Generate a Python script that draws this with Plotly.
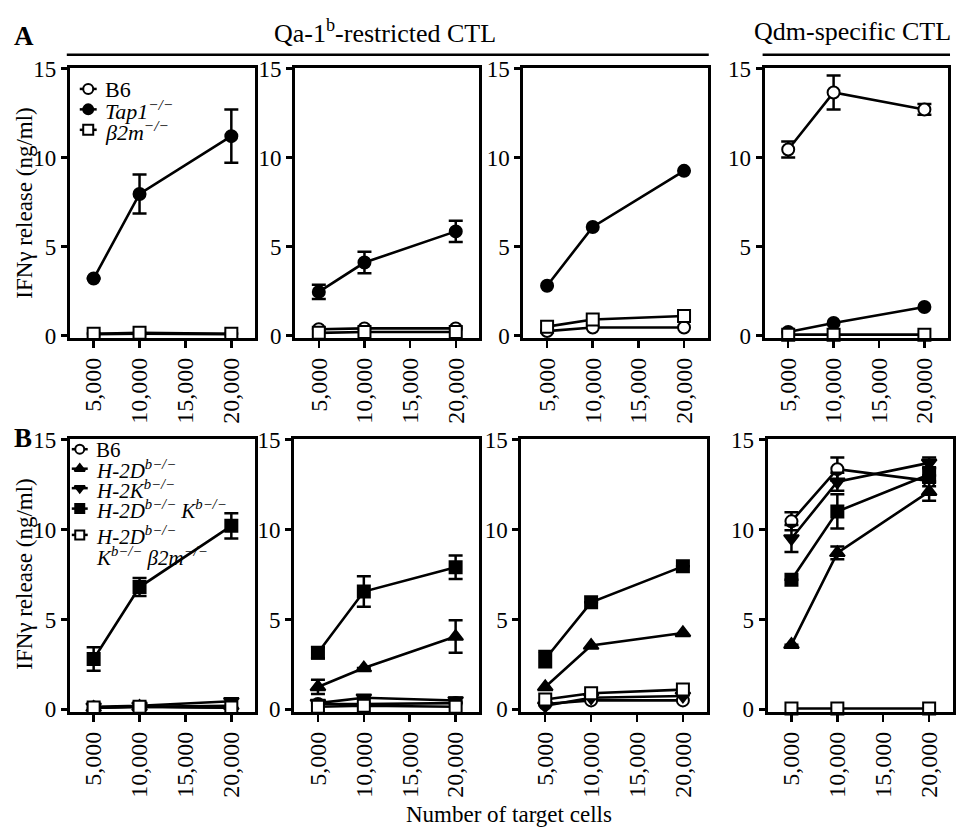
import plotly.graph_objects as go

W, H = 956, 838
FONT = "Liberation Serif, Times New Roman, serif"

# ---------------- data ----------------
doses = [5000, 10000, 20000]
x_tickvals = [5000, 10000, 15000, 20000]
x_ticktext = ["5,000", "10,000", "15,000", "20,000"]
y_tickvals = [0, 5, 10, 15]
y_ticktext = ["0", "5", "10", "15"]

# Row A (Qa-1b-restricted CTL x3, Qdm-specific CTL)
a1_b6 = [0.08, 0.1, 0.08]
a1_tap1 = [3.2, 7.95, 11.2]
a1_tap1_err = [0.0, 1.1, 1.5]
a1_b2m = [0.1, 0.15, 0.1]

a2_b6 = [0.35, 0.4, 0.4]
a2_tap1 = [2.45, 4.1, 5.85]
a2_tap1_err = [0.4, 0.6, 0.6]
a2_b2m = [0.15, 0.2, 0.2]

a3_b6 = [0.25, 0.45, 0.45]
a3_tap1 = [2.8, 6.1, 9.25]
a3_b2m = [0.5, 0.9, 1.1]

a4_b6 = [10.45, 13.65, 12.7]
a4_b6_err = [0.45, 0.95, 0.3]
a4_tap1 = [0.2, 0.7, 1.6]
a4_b2m = [0.05, 0.05, 0.05]

# Row B
b1_b6 = [0.1, 0.15, 0.1]
b1_db = [0.1, 0.15, 0.2]
b1_kb = [0.15, 0.2, 0.45]
b1_dbkb = [2.8, 6.8, 10.2]
b1_dbkb_err = [0.65, 0.5, 0.7]
b1_tko = [0.1, 0.15, 0.1]

b2_b6 = [0.3, 0.3, 0.35]
b2_db = [1.25, 2.3, 4.05]
b2_db_err = [0.4, 0.0, 0.9]
b2_kb = [0.35, 0.65, 0.5]
b2_kb_err = [0.0, 0.0, 0.15]
b2_dbkb = [3.15, 6.55, 7.9]
b2_dbkb_err = [0.3, 0.85, 0.65]
b2_tko = [0.15, 0.2, 0.15]

b3_b6 = [0.3, 0.5, 0.5]
b3_db = [1.25, 3.55, 4.25]
b3_kb = [0.2, 0.65, 0.75]
b3_dbkb = [2.8, 5.95, 7.95]
b3_dbkb_err = [0.45, 0.0, 0.0]
b3_tko = [0.55, 0.9, 1.1]

b4_b6 = [10.45, 13.35, 12.7]
b4_b6_err = [0.5, 0.65, 0.3]
b4_db = [3.6, 8.7, 12.1]
b4_db_err = [0.0, 0.35, 0.5]
b4_kb = [9.5, 12.65, 13.7]
b4_kb_err = [0.75, 0.5, 0.3]
b4_dbkb = [7.2, 11.0, 13.05]
b4_dbkb_err = [0.0, 0.95, 0.4]
b4_tko = [0.05, 0.05, 0.05]

legend_a_labels = ["B6", "<i>Tap1<sup>−/−</sup></i>", "<i>β2m<sup>−/−</sup></i>"]
legend_b_labels = ["B6", "<i>H-2D<sup>b−/−</sup></i>", "<i>H-2K<sup>b−/−</sup></i>",
                   "<i>H-2D<sup>b−/−</sup> K<sup>b−/−</sup></i>",
                   "<i>H-2D<sup>b−/−</sup></i>"]
legend_b_extra = "<i>K<sup>b−/−</sup> β2m<sup>−/−</sup></i>"

# ---------------- styles ----------------
STY = {
    "b6": dict(symbol="circle", fill="white", size=12),
    "tap1": dict(symbol="circle", fill="black", size=12),
    "b2m": dict(symbol="square", fill="white", size=12),
    "db": dict(symbol="triangle-up", fill="black", size=13),
    "kb": dict(symbol="triangle-down", fill="black", size=13),
    "dbkb": dict(symbol="square", fill="black", size=12),
    "tko": dict(symbol="square", fill="white", size=12),
}

panels = [
    (1, [("b6", a1_b6, None), ("tap1", a1_tap1, a1_tap1_err), ("b2m", a1_b2m, None)]),
    (2, [("b6", a2_b6, None), ("tap1", a2_tap1, a2_tap1_err), ("b2m", a2_b2m, None)]),
    (3, [("b6", a3_b6, None), ("tap1", a3_tap1, None), ("b2m", a3_b2m, None)]),
    (4, [("b6", a4_b6, a4_b6_err), ("tap1", a4_tap1, None), ("b2m", a4_b2m, None)]),
    (5, [("b6", b1_b6, None), ("db", b1_db, None), ("kb", b1_kb, None),
         ("dbkb", b1_dbkb, b1_dbkb_err), ("tko", b1_tko, None)]),
    (6, [("b6", b2_b6, None), ("db", b2_db, b2_db_err), ("kb", b2_kb, b2_kb_err),
         ("dbkb", b2_dbkb, b2_dbkb_err), ("tko", b2_tko, None)]),
    (7, [("b6", b3_b6, None), ("db", b3_db, None), ("kb", b3_kb, None),
         ("dbkb", b3_dbkb, b3_dbkb_err), ("tko", b3_tko, None)]),
    (8, [("b6", b4_b6, b4_b6_err), ("db", b4_db, b4_db_err), ("kb", b4_kb, b4_kb_err),
         ("dbkb", b4_dbkb, b4_dbkb_err), ("tko", b4_tko, None)]),
]

fig = go.Figure()


def marker_of(key, size=None):
    s = STY[key]
    return dict(symbol=s["symbol"], size=size or s["size"], color=s["fill"],
                line=dict(color="black", width=2))


for idx, series in panels:
    xa = "x" if idx == 1 else f"x{idx}"
    ya = "y" if idx == 1 else f"y{idx}"
    for key, vals, err in series:
        ey = dict(visible=False)
        if err is not None:
            ey = dict(type="data", array=err, visible=True, color="black",
                      thickness=2.5, width=7)
        fig.add_trace(go.Scatter(
            x=doses, y=vals, mode="lines+markers",
            line=dict(color="black", width=2.6),
            marker=marker_of(key), error_y=ey,
            xaxis=xa, yaxis=ya, showlegend=False, cliponaxis=False,
            hoverinfo="skip"))

# ---------------- layout ----------------
def dx(a, b):
    return [a / W, b / W]


def dy(top, bot):
    return [1 - bot / H, 1 - top / H]


x_dom = [(70, 256), (296, 481), (525, 710), (767, 951),
         (70, 256), (295, 481), (523, 709), (770, 956)]
y_dom_A = (58, 335)
y_dom_B = (439, 719)

layout = dict(
    width=W, height=H, margin=dict(l=0, r=0, t=0, b=0),
    paper_bgcolor="white", plot_bgcolor="rgba(0,0,0,0)",
    font=dict(family=FONT, color="black", size=22),
    showlegend=False,
)

for i in range(1, 9):
    xk = "xaxis" if i == 1 else f"xaxis{i}"
    yk = "yaxis" if i == 1 else f"yaxis{i}"
    yd = y_dom_A if i <= 4 else y_dom_B
    layout[xk] = dict(
        domain=dx(*x_dom[i - 1]), anchor="y" if i == 1 else f"y{i}",
        range=[2400, 22600], tickmode="array", tickvals=x_tickvals,
        ticktext=x_ticktext, tickangle=-90, ticks="outside", ticklen=7,
        tickwidth=2.5, tickcolor="black", showline=True, linewidth=3,
        linecolor="black", mirror=True, showgrid=False, zeroline=False,
        tickfont=dict(family=FONT, size=24, color="black"), fixedrange=True)
    layout[yk] = dict(
        domain=dy(*yd), anchor="x" if i == 1 else f"x{i}",
        range=[-0.15, 15], tickmode="array", tickvals=y_tickvals,
        ticktext=y_ticktext, ticks="outside", ticklen=6, tickwidth=2.5,
        tickcolor="black", showline=True, linewidth=3, linecolor="black",
        mirror=True, showgrid=False, zeroline=False,
        tickfont=dict(family=FONT, size=23, color="black"), fixedrange=True)

# helper axis covering whole paper (pixel units) for the legend keys
layout["xaxis9"] = dict(domain=[0, 1], range=[0, W], visible=False,
                        anchor="y9", fixedrange=True)
layout["yaxis9"] = dict(domain=[0, 1], range=[H, 0], visible=False,
                        anchor="x9", fixedrange=True)

fig.update_layout(**layout)

annotations = []


def add_text(text, x, y, size=22, xanchor="left", yanchor="middle", angle=0):
    annotations.append(dict(text=text, x=x / W, y=1 - y / H, xref="paper",
                            yref="paper", showarrow=False, xanchor=xanchor,
                            yanchor=yanchor, textangle=angle,
                            font=dict(family=FONT, size=size, color="black")))


# legend A
leg_a_keys = ["b6", "tap1", "b2m"]
leg_a_y0, leg_a_step = 79, 21
for k, (key, lab) in enumerate(zip(leg_a_keys, legend_a_labels)):
    yy = leg_a_y0 + k * leg_a_step
    fig.add_trace(go.Scatter(x=[80, 97], y=[yy, yy], mode="lines",
                             line=dict(color="black", width=2.5),
                             xaxis="x9", yaxis="y9", showlegend=False,
                             hoverinfo="skip"))
    fig.add_trace(go.Scatter(x=[88.5], y=[yy], mode="markers",
                             marker=marker_of(key, 10), xaxis="x9", yaxis="y9",
                             showlegend=False, hoverinfo="skip"))
    add_text(lab, 103, yy + 1, size=22)

# legend B
leg_b_keys = ["b6", "db", "kb", "dbkb", "tko"]
leg_b_ys = [449, 469, 489, 510, 537]
for key, lab, yy in zip(leg_b_keys, legend_b_labels, leg_b_ys):
    fig.add_trace(go.Scatter(x=[72, 88], y=[yy, yy], mode="lines",
                             line=dict(color="black", width=2.5),
                             xaxis="x9", yaxis="y9", showlegend=False,
                             hoverinfo="skip"))
    fig.add_trace(go.Scatter(x=[80], y=[yy], mode="markers",
                             marker=marker_of(key, 9), xaxis="x9", yaxis="y9",
                             showlegend=False, hoverinfo="skip"))
    add_text(lab, 94, yy + 1, size=21)
add_text(legend_b_extra, 94, 559, size=21)

# headers
add_text("<b>A</b>", 12, 25, size=27)
add_text("<b>B</b>", 12, 437, size=27)
add_text("Qa-1<sup>b</sup>-restricted CTL", 386, 20, size=26, xanchor="center")
add_text("Qdm-specific CTL", 855, 20, size=26, xanchor="center")

# axis titles
add_text("IFNγ release (ng/ml)", 25, 196, size=23, xanchor="center", angle=-90)
add_text("IFNγ release (ng/ml)", 25, 577, size=23, xanchor="center", angle=-90)
add_text("Number of target cells", 511, 824, size=23, xanchor="center")

shapes = [
    dict(type="line", xref="paper", yref="paper", x0=67 / W, x1=711 / W,
         y0=1 - 44 / H, y1=1 - 44 / H, line=dict(color="black", width=2.5)),
    dict(type="line", xref="paper", yref="paper", x0=765 / W, x1=953 / W,
         y0=1 - 44 / H, y1=1 - 44 / H, line=dict(color="black", width=2.5)),
]

fig.update_layout(annotations=annotations, shapes=shapes)

fig.write_html(
    "out.html",
    config={"displayModeBar": False, "staticPlot": True},
    post_script="document.body.style.margin='0px';"
                "document.body.style.overflow='hidden';")
